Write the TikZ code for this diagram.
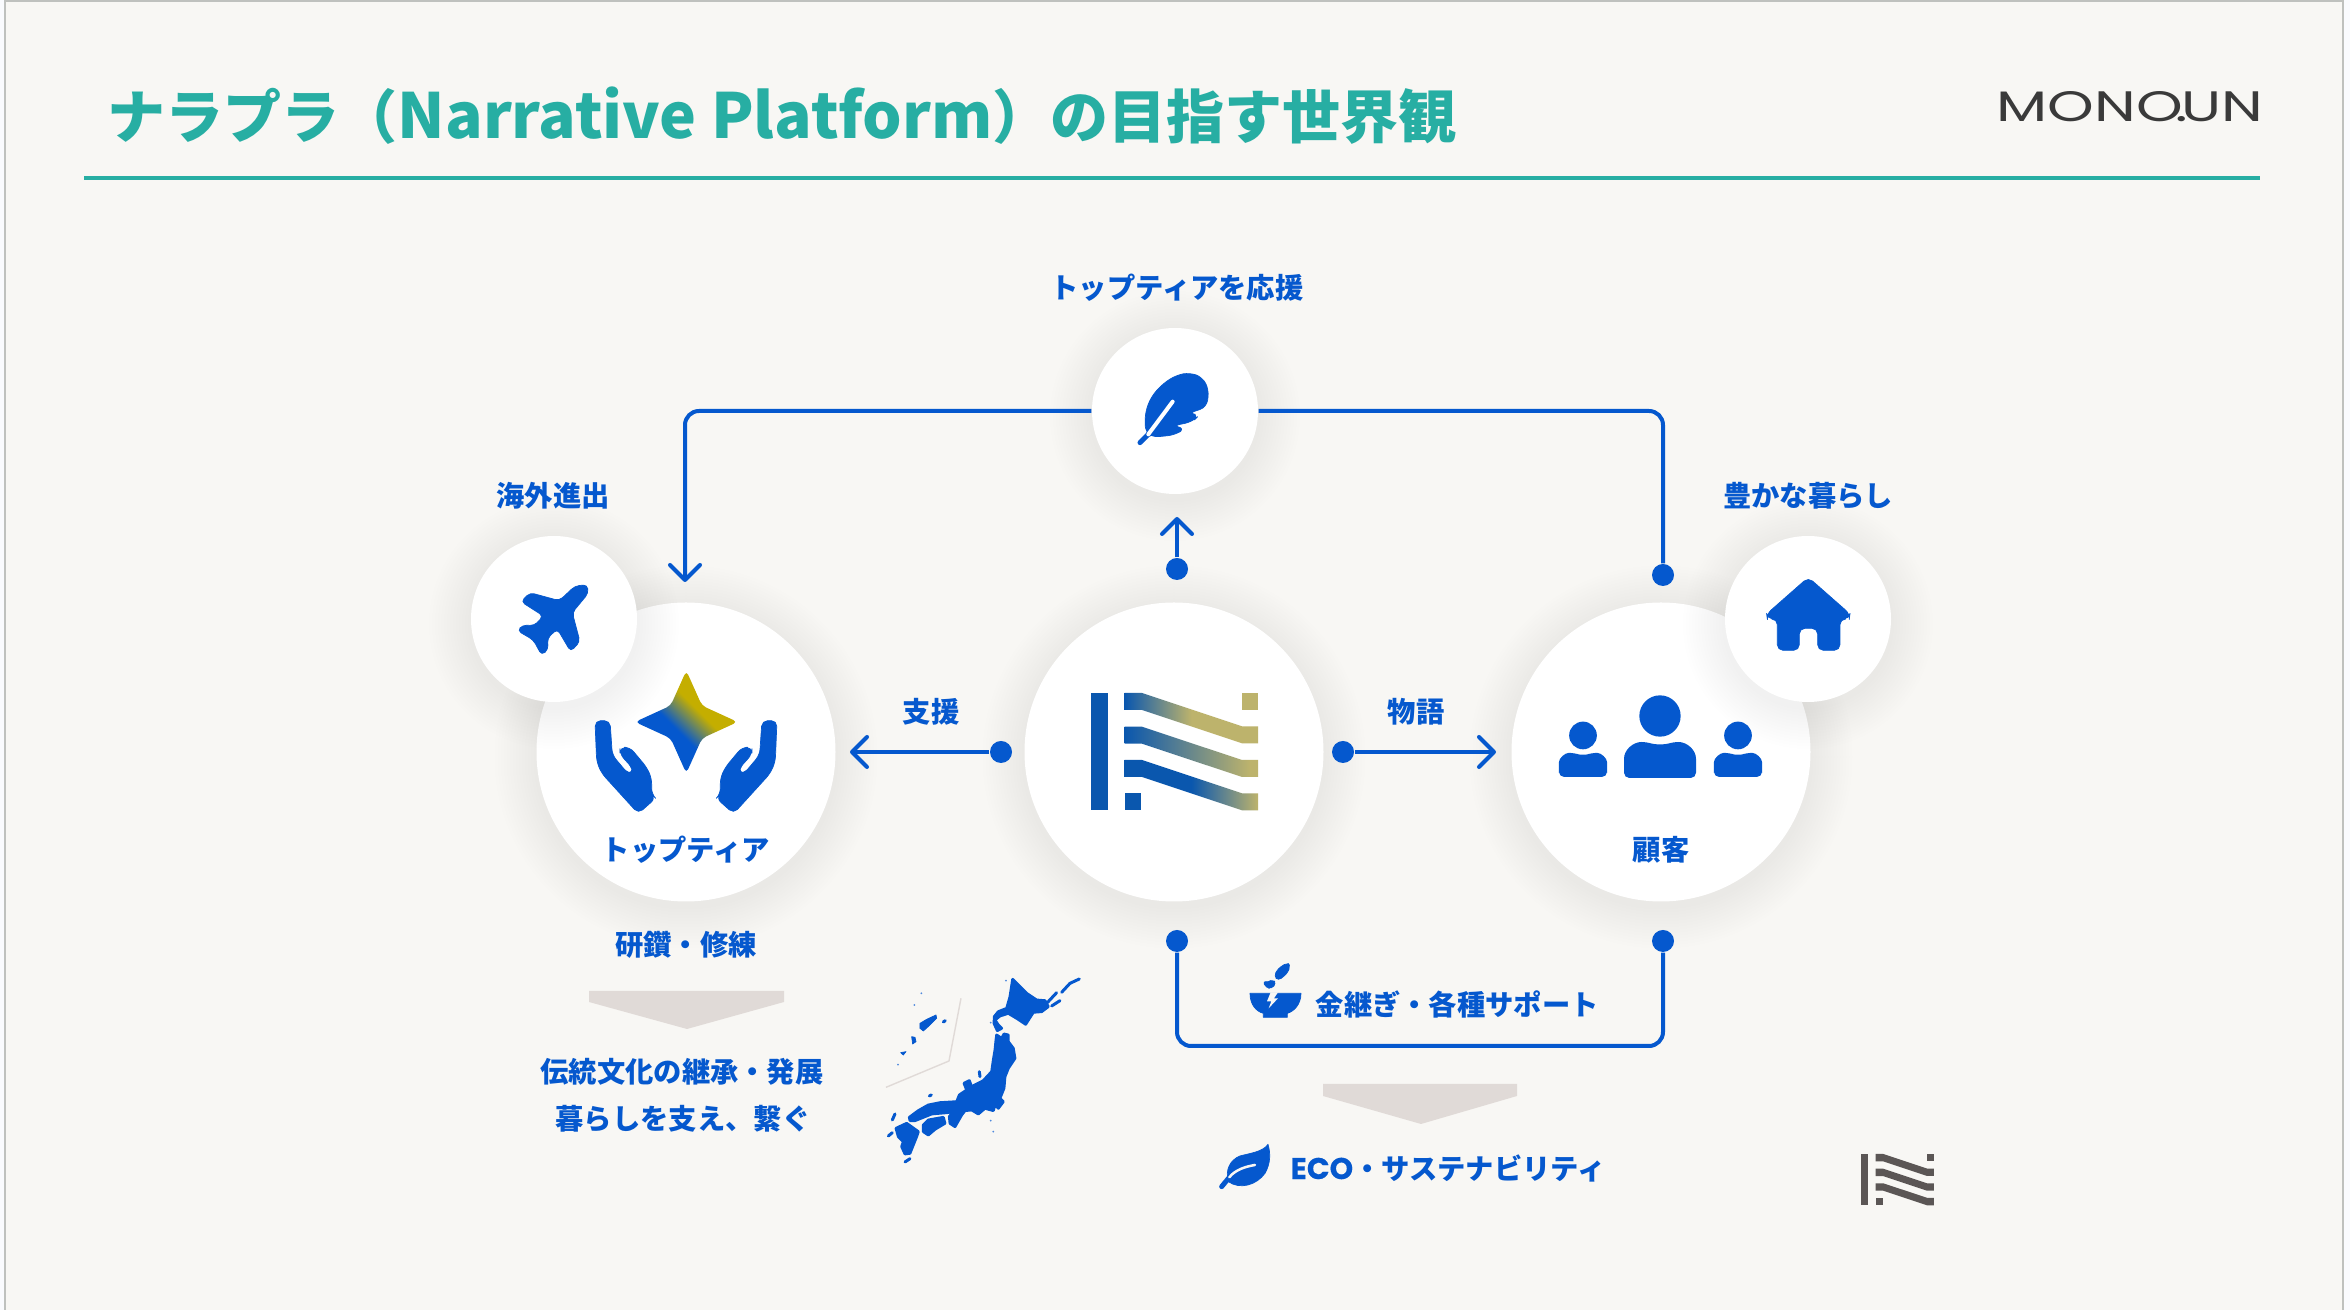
\documentclass[tikz,border=0pt]{standalone}
\usepackage{fontspec}
\usepackage{xcolor}
\usetikzlibrary{arrows.meta,positioning,calc}
\setmainfont{Noto Sans CJK JP}
\newfontfamily\logofont{Poppins}
\newfontfamily\latinfont[FakeBold=.5]{Poppins}
\definecolor{cBg}{HTML}{F8F7F4}
\definecolor{cEdge}{HTML}{BFC1BE}
\definecolor{cOut}{HTML}{FAFBFE}
\definecolor{cTeal}{HTML}{27AEA3}
\definecolor{cBlue}{HTML}{0558CE}
\definecolor{cGrey}{HTML}{E0DAD7}
\definecolor{cInk}{HTML}{3A3A3A}
\definecolor{cMark}{HTML}{5B5655}
\definecolor{cLogoA}{HTML}{0A57AE}
\definecolor{cLogoB}{HTML}{BDB36C}
\definecolor{cGold}{HTML}{C4AE00}
\pgfdeclarehorizontalshading{stripeA}{100bp}{color(0bp)=(cLogoA); color(25bp)=(cLogoA); color(50bp)=(cLogoB); color(100bp)=(cLogoB)}
\pgfdeclarehorizontalshading{stripeB}{100bp}{color(0bp)=(cLogoA); color(25bp)=(cLogoA); color(72bp)=(cLogoB); color(100bp)=(cLogoB)}
\pgfdeclarehorizontalshading{stripeC}{100bp}{color(0bp)=(cLogoA); color(50bp)=(cLogoA); color(75bp)=(cLogoB); color(100bp)=(cLogoB)}
\pgfdeclareverticalshading{starfade}{100bp}{color(0bp)=(cBlue); color(44bp)=(cBlue); color(58bp)=(cGold); color(100bp)=(cGold)}
\tikzset{
  disc/.style={circle,fill=white,inner sep=0pt},
  dot/.style={circle,fill=cBlue,inner sep=0pt,minimum size=.22cm},
  tag/.style={inner sep=0pt,text=cBlue,font=\fontsize{8.05}{10}\selectfont\bfseries},
  link/.style={cBlue,line width=.04cm},
  pointed/.style={link,-{Straight Barb[length=1.5mm,width=3mm,round]}},
  icon/.style={fill=cBlue,draw=cBlue,line width=.2pt,line join=round},
  land/.style={fill=cBlue,draw=cBlue,line width=.8pt,line join=round},
  chevron/.style={fill=cGrey},
  crop/.style 2 args={shift={(#1,#2)},scale=.3333},
}
\newcommand{\softdisc}[4]{%
  \foreach \grow in {3,6,...,42}{\fill[black,opacity=.0026] (#2,#3+5) circle[radius=#4/2+\grow];}
  \node[disc,minimum size=#4*.01cm] (#1) at (#2,#3) {};
}
\newcommand{\stripepath}[1]{(33.7,#1) -- (51,#1) -- (151,#1+33.3) -- (167,#1+33.3) -- (167,#1+50.3) -- (151,#1+50.3) -- (51,#1+17) -- (33.7,#1+17) -- cycle}
\newcommand{\personicon}[3]{%
  \begin{scope}[shift={(#1,#2)},scale=#3]
    \fill[cBlue] (0,-186) circle[radius=62];
    \fill[cBlue,rounded corners=1.5pt] (-108,0) -- (-108,-42) .. controls (-108,-85) and (-80,-108) .. (-40,-108) .. controls (-15,-100) and (15,-100) .. (40,-108) .. controls (80,-108) and (108,-85) .. (108,-42) -- (108,0) -- cycle;
  \end{scope}
}
\newcommand{\handpath}{%
  \path[icon,rounded corners=1.6pt] (345,482) -- (390,482) -- (397,585) -- (443,640) -- (458,640) -- (458,625) -- (420,583) -- (420,562) -- (450,562) -- (500,622) -- (515,655) -- (515,703) -- (527,715) -- (475,761) -- (365,640) -- (350,605) -- cycle;
}

\begin{document}
\begin{tikzpicture}[x=.01cm,y=-.01cm]
\useasboundingbox (0,0) rectangle (2350,1310);
\fill[cOut] (0,0) rectangle (2350,1310);
\fill[cBg,draw=cEdge,line width=.02cm] (5,1) rectangle (2343,1312);

% header
\node[anchor=west,inner sep=0pt,text=cTeal,font=\fontsize{16.5}{20}\selectfont\bfseries] (headline) at (107,116) {ナラプラ（{\fontsize{17.7}{20}\selectfont Narrative Platform}）の目指す世界観};
\draw[cTeal,line width=.04cm] (84,178) -- (2260,178);
\node[anchor=west,inner sep=0pt,text=cInk] (brand) at (1996,107) {\resizebox{2.66cm}{.30cm}{\logofont MONO\kern-.12em.\kern-.12em UN}};

% discs
\softdisc{feather}{1175}{411}{166}
\softdisc{mid}{1174}{752}{299}
\softdisc{top}{686}{752}{299}
\softdisc{client}{1661}{752}{299}
\softdisc{plane}{554}{619}{166}
\softdisc{home}{1808}{619}{166}

% connectors
\node[dot] (dotHome) at (1663,575) {};
\node[dot] (dotUp) at (1177,569) {};
\node[dot] (dotLeft) at (1001,752) {};
\node[dot] (dotRight) at (1343,752) {};
\node[dot] (dotFoot) at (1177,941) {};
\node[dot] (dotFootB) at (1663,941) {};
\coordinate (tipTop) at (685,582);
\coordinate (tipUp) at (1177,517);
\coordinate (tipLeft) at (850,752);
\coordinate (tipRight) at (1496,752);
\draw[pointed,rounded corners=.14cm] (feather.west) -| (tipTop);
\draw[link,rounded corners=.14cm] (feather.east) -| (dotHome);
\draw[pointed] (dotUp) -- (tipUp);
\draw[pointed] (dotLeft) -- (tipLeft);
\draw[pointed] (dotRight) -- (tipRight);
\draw[link,rounded corners=.14cm] (dotFoot) -- ++(0,105) -| (dotFootB);

% labels
\node[tag] (tagCheer) at (1177,288) {トップティアを応援};
\node[tag] (tagAbroad) at (553,496) {海外進出};
\node[tag] (tagLife) at (1808,496) {豊かな暮らし};
\node[tag] (tagAid) at (931,712) {支援};
\node[tag] (tagStory) at (1416,712) {物語};
\node[tag] (tagTop) at (686,850) {トップティア};
\node[tag] (tagClient) at (1661,850) {顧客};
\node[tag] (tagTrain) at (686,945) {研鑽・修練};
\node[tag] (tagCulture) at (682,1072) {伝統文化の継承・発展};
\node[tag] (tagBind) at (683,1119) {暮らしを支え、繋ぐ};
\node[tag,anchor=west] (tagKintsugi) at (1315,1004) {金継ぎ・各種サポート};
\node[tag,anchor=west] (tagEco) at (1290,1168) {{\fontsize{8.5}{10}\selectfont\latinfont ECO}・サステナビリティ};

% down arrows
\fill[chevron] (589,991) -- (784,991) -- (784,1002) -- (687,1029) -- (589,1002) -- cycle;
\fill[chevron] (1323,1084) -- (1517,1084) -- (1517,1096) -- (1421,1124) -- (1323,1096) -- cycle;

% plane
\begin{scope}[crop={480}{560}]
  \path[icon,rounded corners=1.2pt] (322,74) -- (325,100) -- (277,158) -- (300,245) -- (272,275) -- (232,207) -- (202,235) -- (205,268) -- (185,286) -- (160,240) -- (112,212) -- (128,195) -- (163,197) -- (190,168) -- (123,125) -- (150,98) -- (238,122) -- (285,78) -- cycle;
  % hands and star
  \handpath
  \begin{scope}[shift={(1236,0)},xscale=-1]
    \handpath
  \end{scope}
  \shade[shading=starfade,shading angle=-45,rounded corners=1.3pt] (619,332) -- (666,437) -- (773,486) -- (666,535) -- (619,640) -- (572,535) -- (465,486) -- (572,437) -- cycle;
\end{scope}

% feather
\begin{scope}[crop={1080}{320}]
  \path[icon,rounded corners=2pt] (195,335) -- (196,275) -- (215,228) -- (250,190) -- (290,165) -- (330,158) -- (368,172) -- (387,210) -- (380,262) -- (325,280) -- (358,285) -- (338,305) -- (278,318) -- (316,325) -- (285,345) -- (215,352) -- cycle;
  \draw[cBlue,line width=.05cm,line cap=round] (180,368) -- (215,333);
  \draw[white,line width=.04cm,line cap=round] (205,343) -- (278,245);
\end{scope}

% house and people
\begin{scope}[crop={1540}{520}]
  \path[icon,rounded corners=1.6pt] (805,172) -- (930,282) -- (928,297) -- (900,297) -- (900,391) -- (833,391) -- (833,325) -- (778,325) -- (778,391) -- (712,391) -- (712,297) -- (682,297) -- (680,282) -- cycle;
\end{scope}
\personicon{1660}{778}{.3333}
\personicon{1583}{777}{.2233}
\personicon{1738}{777}{.2233}

% big logo
\begin{scope}[shift={(1091,693)}]
  \fill[cLogoA] (0,0) rectangle (17,117);
  \fill[cLogoA] (33.7,100) rectangle (50,117);
  \fill[cLogoB] (150.7,0) rectangle (167,17);
  \shade[shading=stripeA] \stripepath{0};
  \shade[shading=stripeB] \stripepath{33.7};
  \shade[shading=stripeC] \stripepath{67};
\end{scope}

% small logo
\begin{scope}[shift={(1861,1154)},scale=.437,cMark]
  \fill (0,0) rectangle (17,117);
  \fill (33.7,100) rectangle (50,117);
  \fill (150.7,0) rectangle (167,17);
  \fill \stripepath{0};
  \fill \stripepath{33.7};
  \fill \stripepath{67};
\end{scope}

% bowl and leaf
\begin{scope}[crop={1200}{940}]
  \path[icon] (150,160) -- (303,160) .. controls (303,195) and (280,215) .. (262,220) -- (262,232) -- (190,232) -- (190,220) .. controls (170,215) and (150,195) .. (150,160) -- cycle;
  \fill[cBg] (212,157) -- (234,157) -- (222,175) -- (234,175) -- (206,205) -- (214,184) -- (201,184) -- cycle;
  \path[icon,rounded corners=1pt] (262,68) -- (271,78) -- (262,100) -- (235,122) -- (222,108) -- (235,85) -- cycle;
  \path[icon,rounded corners=1pt] (188,123) -- (205,128) -- (217,118) -- (229,130) -- (215,146) -- (198,143) -- cycle;
  \path[icon] (204,613) .. controls (190,635) and (150,640) .. (120,648) .. controls (90,660) and (75,690) .. (85,725) .. controls (120,750) and (170,735) .. (195,700) .. controls (212,670) and (212,640) .. (204,613) -- cycle;
  \draw[cBlue,line width=.05cm,line cap=round] (65,740) -- (88,712);
  \draw[cBg,line width=.025cm,line cap=round] (88,712) .. controls (105,690) and (135,680) .. (165,675);
\end{scope}

% japan
\begin{scope}[crop={860}{960}]
  \draw[cGrey,line width=.014cm] (303,115) -- (267,303) -- (78,382);
  \path[land] (458,58) -- (475,75) -- (500,100) -- (530,120) -- (555,122) -- (565,140) -- (545,155) -- (520,157) -- (497,193) -- (470,175) -- (445,160) -- (420,168) -- (405,180) -- (415,195) -- (425,205) -- (412,212) -- (402,190) -- (403,170) -- (415,155) -- (440,145) -- (450,110) -- cycle;
  \path[land] (410,225) -- (425,235) -- (432,222) -- (445,225) -- (445,245) -- (460,265) -- (465,295) -- (445,325) -- (435,350) -- (432,385) -- (420,415) -- (430,425) -- (415,445) -- (405,435) -- (400,452) -- (375,445) -- (355,462) -- (335,450) -- (315,452) -- (305,465) -- (285,500) -- (270,490) -- (268,470) -- (280,455) -- (262,458) -- (215,462) -- (165,482) -- (150,482) -- (148,472) -- (175,452) -- (205,435) -- (240,428) -- (290,425) -- (298,405) -- (320,390) -- (312,370) -- (328,362) -- (335,380) -- (370,362) -- (395,335) -- (400,300) -- (405,270) -- (408,240) -- cycle;
  \path[land] (190,495) -- (205,480) -- (250,472) -- (255,490) -- (225,508) -- (205,525) -- (190,515) -- cycle;
  \path[land] (108,505) -- (140,490) -- (175,515) -- (170,530) -- (150,580) -- (135,582) -- (125,560) -- (130,545) -- (115,530) -- cycle;
  \path[icon] (180,190) -- (200,178) -- (228,165) -- (230,175) -- (210,195) -- (190,213) -- (180,205) -- cycle;
  \path[icon] (155,230) -- (165,232) -- (168,245) -- (158,252) -- cycle;
  \path[icon] (122,278) -- (138,275) -- (130,285) -- cycle;
  \foreach \isleA/\isleB/\isleC/\isleD in {658/57/630/70,630/70/605/97,590/98/562/128,600/122/575/138,358/335/360/350,97/480/105/462,250/186/256/182,208/408/214/405,135/606/150/596,85/528/97/518}{
    \draw[cBlue,line width=.03cm,line cap=round] (\isleA,\isleB) -- (\isleC,\isleD);
  }
  \foreach \isleA/\isleB in {114/314,392/188,438/62,400/515,392/482,184/100,163/135}{
    \fill[cBlue!70] (\isleA,\isleB) circle[radius=3];
  }
\end{scope}
\end{tikzpicture}
\end{document}
